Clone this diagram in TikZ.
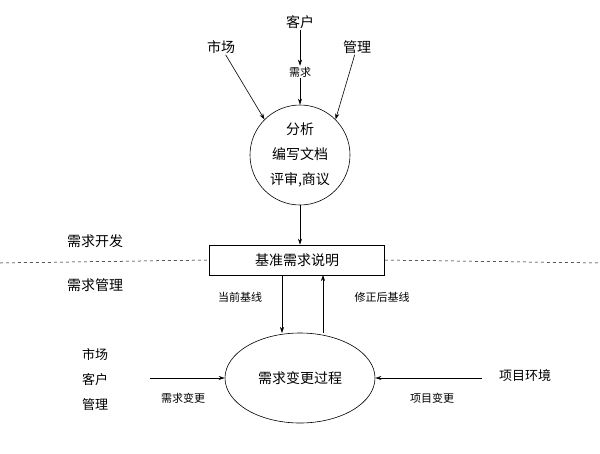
\documentclass[tikz,border=0pt]{standalone}
\usepackage{fontspec}
\setmainfont{Noto Sans CJK SC}
\usetikzlibrary{arrows.meta,shapes.geometric}
\begin{document}
\begin{tikzpicture}[x=1pt,y=-1pt,
  arr/.style={-{Stealth[length=6pt,width=4pt]},line width=0.6pt},
  big/.style={font=\fontsize{14}{16}\selectfont,inner sep=1pt},
  sm/.style={font=\fontsize{11}{13}\selectfont,inner sep=1pt}]
\useasboundingbox (0,0) rectangle (600,453);
\node[big] (kh) at (300,22) {客户};
\node[big] (sc) at (221,47) {市场};
\node[big] (gl) at (357,47) {管理};
\node[ellipse,draw,line width=0.6pt,minimum width=100pt,minimum height=100pt,inner sep=0pt,align=center,font=\fontsize{14}{25}\selectfont] (e1) at (300,155) {分析\\编写文档\\评审,商议};
\node[sm] (xq) at (300,72) {需求};
\draw[arr] (kh) -- (xq);
\draw[arr] (xq) -- (e1.north);
\draw[arr] (sc) -- (e1.north west);
\draw[arr] (gl) -- (e1.north east);
\node[draw,line width=0.6pt,minimum width=175pt,minimum height=30pt,big] (box) at (297,260) {基准需求说明};
\draw[arr] (e1.south) -- (box.north -| e1.south);
\draw[dashed,line width=0.5pt] (0,263) -- (box.west) (box.east) -- (600,263);
\node[big] (kf) at (95,241) {需求开发};
\node[big] (gm) at (95,285) {需求管理};
\node[ellipse,draw,line width=0.6pt,minimum width=150pt,minimum height=90pt,big] (e2) at (300,378) {需求变更过程};
\coordinate (b1) at (282,275); \coordinate (c1) at (282,333);
\coordinate (b2) at (323,275); \coordinate (c2) at (323,333);
\draw[arr] (b1) -- (c1);
\draw[arr] (c2) -- (b2);
\node[sm] (dq) at (240,297) {当前基线};
\node[sm] (xz) at (382,297) {修正后基线};
\node[big,align=center,font=\fontsize{13}{25}\selectfont] (left) at (95,380) {市场\\客户\\管理};
\coordinate (la) at (150,378);
\draw[arr] (la) -- (e2.west);
\node[sm] (bg) at (183,398) {需求变更};
\node[big,font=\fontsize{13}{15}\selectfont] (hj) at (525,376) {项目环境};
\coordinate (ra) at (482,378);
\draw[arr] (ra) -- (e2.east);
\node[sm] (xm) at (432,398) {项目变更};
\end{tikzpicture}
\end{document}
